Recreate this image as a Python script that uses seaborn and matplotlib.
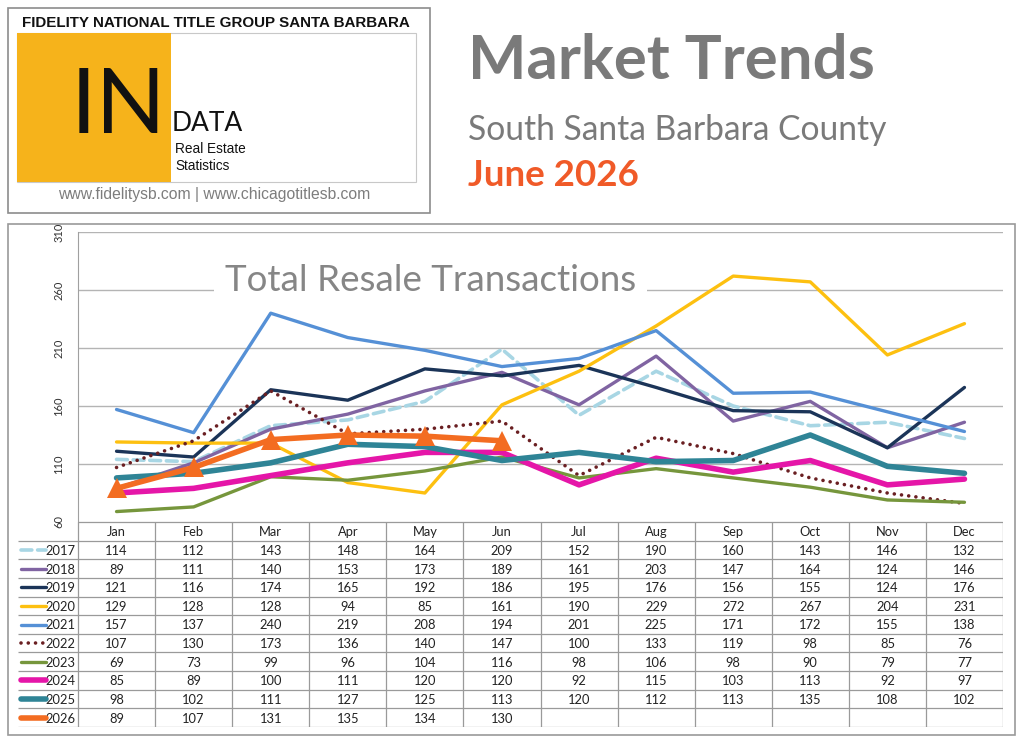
import numpy as np
import pandas as pd
import seaborn as sns
import matplotlib.pyplot as plt
from matplotlib.patches import Rectangle

months = ['Jan', 'Feb', 'Mar', 'Apr', 'May', 'Jun', 'Jul', 'Aug', 'Sep', 'Oct', 'Nov', 'Dec']
years = ['2017', '2018', '2019', '2020', '2021', '2022', '2023', '2024', '2025', '2026']

s2017 = [114, 112, 143, 148, 164, 209, 152, 190, 160, 143, 146, 132]
s2018 = [89, 111, 140, 153, 173, 189, 161, 203, 147, 164, 124, 146]
s2019 = [121, 116, 174, 165, 192, 186, 195, 176, 156, 155, 124, 176]
s2020 = [129, 128, 128, 94, 85, 161, 190, 229, 272, 267, 204, 231]
s2021 = [157, 137, 240, 219, 208, 194, 201, 225, 171, 172, 155, 138]
s2022 = [107, 130, 173, 136, 140, 147, 100, 133, 119, 98, 85, 76]
s2023 = [69, 73, 99, 96, 104, 116, 98, 106, 98, 90, 79, 77]
s2024 = [85, 89, 100, 111, 120, 120, 92, 115, 103, 113, 92, 97]
s2025 = [98, 102, 111, 127, 125, 113, 120, 112, 113, 135, 108, 102]
s2026 = [89, 107, 131, 135, 134, 130]

series = [s2017, s2018, s2019, s2020, s2021, s2022, s2023, s2024, s2025, s2026]

# line styles per year (same order as years)
styles = [
    dict(color='#a8d6e4', lw=2.6, ls=(0, (3, 1.6))),
    dict(color='#8064a2', lw=2.4, ls='-'),
    dict(color='#1b3458', lw=2.4, ls='-'),
    dict(color='#fdc010', lw=2.4, ls='-'),
    dict(color='#5590d6', lw=2.4, ls='-'),
    dict(color='#6a1f22', lw=2.6, ls=(0, (0.01, 2.0))),
    dict(color='#76963c', lw=2.4, ls='-'),
    dict(color='#e516a8', lw=4.0, ls='-'),
    dict(color='#2f8496', lw=4.0, ls='-'),
    dict(color='#f36c21', lw=4.0, ls='-'),
]

W, H = 1024, 743
sns.set_style('white')
plt.rcParams['font.family'] = ['Lato', 'DejaVu Sans']

fig = plt.figure(figsize=(W / 100, H / 100), dpi=100)


def box(x0, y0, x1, y1):
    return [x0 / W, 1 - y1 / H, (x1 - x0) / W, (y1 - y0) / H]


# header block ---------------------------------------------------------
fig.patches.append(Rectangle((8 / W, 1 - 213 / H), 422 / W, 205 / H, transform=fig.transFigure,
                             fill=False, ec='#8c8c8c', lw=1.2))
fig.patches.append(Rectangle((17 / W, 1 - 182 / H), 399 / W, 149 / H, transform=fig.transFigure,
                             fill=False, ec='#c8c8c8', lw=0.8))
fig.patches.append(Rectangle((17 / W, 1 - 182 / H), 154 / W, 149 / H, transform=fig.transFigure,
                             fc='#f6b31b', ec='none'))
fig.text(216 / W, 1 - 23 / H, 'FIDELITY NATIONAL TITLE GROUP SANTA BARBARA', ha='center', va='center',
         fontsize=10.9, fontweight='bold', family='Liberation Sans', color='#111111')
fig.text(71 / W, 1 - 133 / H, 'IN', ha='left', va='baseline', fontsize=66, fontweight='normal',
         family='Lato', color='#111111')
fig.text(172 / W, 1 - 131 / H, 'DATA', ha='left', va='baseline', fontsize=19, family='Lato',
         color='#111111')
fig.text(175 / W, 1 - 149 / H, 'Real Estate', ha='left', va='center', fontsize=9.8,
         family='Liberation Sans', color='#111111')
fig.text(175 / W, 1 - 166 / H, 'Statistics', ha='left', va='center', fontsize=9.8,
         family='Liberation Sans', color='#111111')
fig.text(214 / W, 1 - 195 / H, 'www.fidelitysb.com | www.chicagotitlesb.com', ha='center', va='center',
         fontsize=11.3, family='Liberation Sans', color='#7d7d7d')

fig.text(468 / W, 1 - 79 / H, 'Market Trends', ha='left', va='baseline', fontsize=44.5,
         fontweight='bold', color='#7a7a7a')
fig.text(468 / W, 1 - 140 / H, 'South Santa Barbara County', ha='left', va='baseline', fontsize=24.2,
         color='#7a7a7a')
fig.text(468 / W, 1 - 186 / H, 'June 2026', ha='left', va='baseline', fontsize=26.5,
         fontweight='bold', color='#f05a28')

# chart frame
fig.patches.append(Rectangle((8 / W, 1 - 735 / H), 1007 / W, 511 / H, transform=fig.transFigure,
                             fill=False, ec='#9a9a9a', lw=1.2))

# line chart -----------------------------------------------------------
ax = fig.add_axes(box(78, 232, 1003, 522))
x = np.arange(len(months))
for yr, vals, st in zip(years, series, styles):
    xs = x[:len(vals)]
    extra = {}
    if yr == '2026':
        extra = dict(marker='^', markersize=15, markeredgewidth=0, markerfacecolor=st['color'])
    sns.lineplot(x=xs, y=vals, ax=ax, color=st['color'], linewidth=st['lw'], linestyle=st['ls'],
                 dash_capstyle='round', solid_capstyle='round', solid_joinstyle='round', **extra)

ax.set_xlim(-0.5, 11.5)
ax.set_ylim(60, 310)
ax.set_yticks(np.arange(60, 311, 50))
ax.set_xticks([])
ax.yaxis.grid(True, color='#b4b4b4', lw=1)
ax.set_axisbelow(True)
for side in ['top', 'right', 'bottom']:
    ax.spines[side].set_visible(False)
ax.spines['left'].set_color('#a0a0a0')
ax.tick_params(axis='y', length=0, pad=10, labelsize=8, labelcolor='#333333')
for lab in ax.get_yticklabels():
    lab.set_rotation(90)
    lab.set_va('center')
ax.text(4.07, 268, 'Total Resale Transactions', ha='center', va='center', fontsize=26.5,
        fontweight='normal', color='#868686',
        bbox=dict(fc='white', ec='none', pad=8))

# data table -----------------------------------------------------------
lab_w = (78 - 18) / (1003 - 78) * 12
tax = fig.add_axes(box(18, 522, 1003, 727))
tax.set_facecolor('none')
tax.set_xlim(-0.5 - lab_w, 11.5)
tax.set_ylim(11, 0)
tax.axis('off')
grid_c = '#9a9a9a'
tax.hlines(0, -0.5, 11.5, color=grid_c, lw=0.9)
tax.hlines(np.arange(1, 12), -0.5 - lab_w, 11.5, color=grid_c, lw=0.9)
tax.vlines(np.arange(-0.5, 12, 1), 0, 11, color=grid_c, lw=0.9)
for j, m in enumerate(months):
    tax.text(j, 0.55, m, ha='center', va='center', fontsize=9.3, color='#222222')
for i, (yr, vals, st) in enumerate(zip(years, series, styles)):
    r = i + 1.55
    tax.plot([-0.5 - lab_w + 0.04, -0.5 - lab_w + 0.36], [r - 0.05, r - 0.05], color=st['color'],
             lw=st['lw'], ls=st['ls'], dash_capstyle='round', solid_capstyle='round')
    tax.text(-0.53, r, yr, ha='right', va='center', fontsize=9.3, color='#222222')
    for j, v in enumerate(vals):
        tax.text(j, r, str(v), ha='center', va='center', fontsize=9.3, color='#222222')

fig.savefig('out.png', dpi=100)
